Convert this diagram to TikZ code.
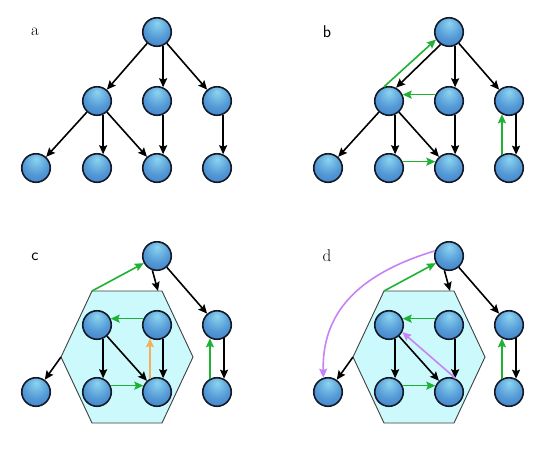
\documentclass[tikz,border=0pt]{standalone}
\usetikzlibrary{arrows.meta}
\definecolor{nlight}{RGB}{140,212,240}
\definecolor{nmid}{RGB}{84,154,214}
\definecolor{ndark}{RGB}{52,110,190}
\definecolor{ndeep}{RGB}{32,72,150}
\definecolor{nborder}{RGB}{20,26,40}
\definecolor{hexfill}{RGB}{204,250,252}
\definecolor{egreen}{RGB}{30,178,50}
\definecolor{eorange}{RGB}{240,176,96}
\definecolor{eviolet}{RGB}{200,130,245}
\pgfdeclareradialshading{nodeball}{\pgfpoint{0bp}{16bp}}{color(0bp)=(nlight); color(22bp)=(nmid); color(48bp)=(ndark); color(66bp)=(ndeep); color(70bp)=(ndeep)}
\tikzset{
  vx/.style={circle, draw=nborder, line width=1.6pt, shading=nodeball, minimum size=28.5pt, inner sep=0pt},
  edgeline/.style={line width=1.6pt, -{Stealth[length=9pt,width=8pt,inset=1.5pt]}},
  blk/.style={edgeline, draw=black},
  grn/.style={edgeline, draw=egreen},
  org/.style={edgeline, draw=eorange},
  vio/.style={edgeline, draw=eviolet},
  hexa/.style={fill=hexfill, draw=black!75, line width=0.9pt},
  lbl/.style={font=\fontsize{17}{20}\selectfont},
  lbls/.style={font=\fontsize{17}{20}\selectfont\sffamily}
}
\begin{document}
\begin{tikzpicture}[x=1pt,y=-1pt]
\useasboundingbox (0,0) rectangle (545,448);
\fill[white] (0,0) rectangle (545,448);

% ---------- panel a ----------
\begin{scope}
\node[lbl] (la) at (35,32) {a};
\node[vx] (aR) at (157,32) {};
\node[vx] (aA) at (97,101) {};
\node[vx] (aB) at (157,101) {};
\node[vx] (aC) at (217,101) {};
\node[vx] (aD) at (36,168) {};
\node[vx] (aE) at (97,168) {};
\node[vx] (aF) at (157,168) {};
\node[vx] (aG) at (217,168) {};
\draw[blk] (aR) -- (aA);
\draw[blk] (aR.-66) -- (aB.66);
\draw[blk] (aR) -- (aC);
\draw[blk] (aA) -- (aD);
\draw[blk] (aA.-66) -- (aE.66);
\draw[blk] (aA) -- (aF);
\draw[blk] (aB.-66) -- (aF.66);
\draw[blk] (aC.-66) -- (aG.66);
\end{scope}

% ---------- panel b ----------
\begin{scope}[shift={(292,0)}]
\node[lbls] (lb) at (35,32) {b};
\node[vx] (bR) at (157,32) {};
\node[vx] (bA) at (97,101) {};
\node[vx] (bB) at (157,101) {};
\node[vx] (bC) at (217,101) {};
\node[vx] (bD) at (36,168) {};
\node[vx] (bE) at (97,168) {};
\node[vx] (bF) at (157,168) {};
\node[vx] (bG) at (217,168) {};
\draw[blk] (bR.236) -- (bA.62);
\draw[grn] (bA.110) -- (bR.210);
\draw[blk] (bR.-66) -- (bB.66);
\draw[blk] (bR) -- (bC);
\draw[grn] (bB.155) -- (bA.25);
\draw[blk] (bA) -- (bD);
\draw[blk] (bA.-66) -- (bE.66);
\draw[blk] (bA) -- (bF);
\draw[blk] (bB.-66) -- (bF.66);
\draw[grn] (bE.25) -- (bF.155);
\draw[blk] (bC.-62) -- (bG.62);
\draw[grn] (bG.118) -- (bC.242);
\end{scope}

% ---------- panel c ----------
\begin{scope}[shift={(0,224)}]
\node[lbls] (lc) at (35,33) {c};
\draw[hexa] (92,67) -- (162,67) -- (193,133) -- (162,199) -- (92,199) -- (61,133) -- cycle;
\coordinate (cHtl) at (92,67);
\coordinate (cHt) at (158,67);
\coordinate (cHl) at (61,133);
\node[vx] (cR) at (157,32) {};
\node[vx] (cTL) at (97,101) {};
\node[vx] (cTR) at (157,101) {};
\node[vx] (cC) at (217,101) {};
\node[vx] (cD) at (36,168) {};
\node[vx] (cBL) at (97,168) {};
\node[vx] (cBR) at (157,168) {};
\node[vx] (cG) at (217,168) {};
\draw[blk] (cR.252) -- (cHt);
\draw[blk] (cR) -- (cC);
\draw[grn] (cHtl) -- (cR);
\draw[blk] (cHl) -- (cD);
\draw[grn] (cTR.155) -- (cTL.25);
\draw[blk] (cTL.-66) -- (cBL.66);
\draw[blk] (cTL) -- (cBR);
\draw[blk] (cTR.-66) -- (cBR.66);
\draw[org] (cBR.118) -- (cTR.242);
\draw[grn] (cBL.25) -- (cBR.155);
\draw[blk] (cC.-62) -- (cG.62);
\draw[grn] (cG.118) -- (cC.242);
\end{scope}

% ---------- panel d ----------
\begin{scope}[shift={(292,224)}]
\node[lbl] (ld) at (35,32) {d};
\draw[hexa] (92,67) -- (162,67) -- (193,133) -- (162,199) -- (92,199) -- (61,133) -- cycle;
\coordinate (dHtl) at (92,67);
\coordinate (dHt) at (158,67);
\coordinate (dHl) at (61,133);
\node[vx] (dR) at (157,32) {};
\node[vx] (dTL) at (97,101) {};
\node[vx] (dTR) at (157,101) {};
\node[vx] (dC) at (217,101) {};
\node[vx] (dD) at (36,168) {};
\node[vx] (dBL) at (97,168) {};
\node[vx] (dBR) at (157,168) {};
\node[vx] (dG) at (217,168) {};
\draw[blk] (dR.252) -- (dHt);
\draw[blk] (dR) -- (dC);
\draw[grn] (dHtl) -- (dR);
\draw[blk] (dHl) -- (dD);
\draw[grn] (dTR.155) -- (dTL.25);
\draw[blk] (dTL.-66) -- (dBL.66);
\draw[blk] (dTL) -- (dBR);
\draw[blk] (dTR.-66) -- (dBR.66);
\draw[vio] (dBR.63) -- (dTL.-28);
\draw[grn] (dBL.25) -- (dBR.155);
\draw[blk] (dC.-62) -- (dG.62);
\draw[grn] (dG.118) -- (dC.242);
\draw[vio] (dR.160) .. controls (63,51) and (30,91) .. (dD.108);
\end{scope}
\end{tikzpicture}
\end{document}
